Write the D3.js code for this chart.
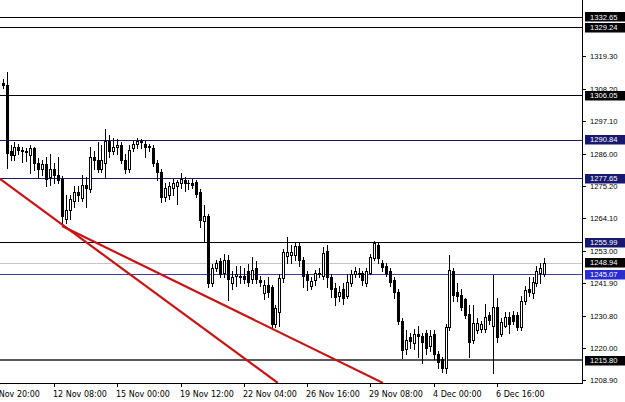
<!DOCTYPE html>
<html><head><meta charset="utf-8">
<script src="https://cdn.jsdelivr.net/npm/d3@7"></script>
<style>html,body{margin:0;padding:0;background:#fff;overflow:hidden}</style>
</head><body>
<svg id="c" width="625" height="402"></svg>
<script>
// H4 bars, index 0..137
const opens = [1310.3,1309.5,1287,1285.7,1288.5,1287.5,1287,1285.5,1288,1283,
1281,1282.5,1278,1281,1279,1277.5,1264,1267,1270,1273,
1271,1275.5,1274,1285,1284,1281,1283,1290.5,1287,1288.5,
1289,1284,1281,1288,1289.5,1290.5,1289.5,1288.5,1288,1283,
1280,1271.5,1272,1274.5,1275,1276,1277,1276,1276,1276.5,
1273,1263,1265,1242,1247,1249.5,1245.5,1250,1242,1244.5,
1244,1244.5,1246,1243.5,1247,1243,1238.5,1241.5,1240.8,1228,
1232,1243.7,1251.3,1251.5,1251.5,1254.5,1250,1245,1241,1243,
1245,1244.5,1253,1244,1240.5,1237.5,1240,1237.5,1242,1245,
1245.5,1245.5,1242,1245.5,1250.5,1255,1249,1248,1246,1243,
1239,1229,1219.5,1223.5,1221.5,1224.5,1224,1225,1220.5,1224.5,
1218,1216,1213,1227,1246,1239,1238,1236.5,1231.5,1222.5,
1226,1226.5,1226.5,1231,1227.5,1234,1224.5,1227.5,1230.5,1231,
1231,1227,1236,1240,1238.5,1242,1245.5,1245];
const highs = [1311.5,1314.0,1289,1290,1289.5,1288.5,1288,1289,1288.5,1284.5,
1284,1285,1286,1283,1285,1278.5,1272,1272,1275,1275,
1279,1278,1288.5,1287,1290,1289,1294.4,1292.5,1291.5,1291,
1290,1286,1289,1290.5,1291.5,1291,1290.5,1289.5,1289,1284,
1281,1276,1276.5,1277.5,1277,1279.5,1278,1277,1277.5,1277,
1274,1268.5,1265.5,1248.5,1250,1250.5,1252,1251.5,1246,1248,
1248,1247,1248.5,1251,1249.5,1244.5,1243,1244.2,1241.5,1234.5,
1245,1253.5,1257.8,1255,1256,1255.5,1251,1246,1244,1246.5,
1247,1254.4,1255,1245,1242,1241,1242,1245,1246.5,1247.5,
1247,1246,1247,1252,1256.5,1256,1250,1249,1247,1244,
1240,1230,1226,1225,1226.5,1227.5,1225,1226,1226,1226,
1219,1217,1228,1251.5,1247,1242,1240,1237,1234.5,1234.5,
1230,1229,1235,1232,1244.8,1237,1230,1232,1232,1232.5,
1232,1237.5,1241,1244,1244,1248,1249,1250.5];
const lows = [1308.6,1281.1,1284,1284,1286,1283.3,1283.5,1279.5,1280.5,1278,
1279,1275,1275.5,1276,1276,1262,1262.5,1264,1268,1270,
1270,1268,1273,1281,1280,1280,1277.7,1285,1286,1286,
1283,1279.5,1280,1287,1288,1288,1285,1287,1282,1277,
1269.8,1270,1270.5,1272,1269,1274.5,1273.5,1274,1274.5,1271.5,
1261,1256,1240.8,1241,1246,1244,1244,1236.3,1240,1241,
1242,1242,1241,1242,1242,1241,1236.5,1237.4,1226.5,1227,
1227.5,1242.5,1249,1249,1250,1248,1240.8,1239.7,1240,1241.5,
1244,1243.5,1240.8,1237.4,1234.5,1236,1235,1237,1241,1244,
1244,1241.5,1241,1245,1250,1249,1246,1244.5,1241,1237,
1228,1216.5,1218,1220,1219.5,1217,1214.7,1218,1219,1216,
1213,1211.8,1211.5,1226,1236,1236,1233,1230,1217,1221.5,
1225,1225.5,1225.5,1228,1211.3,1222,1224,1227,1225,1228,
1226,1226,1235,1237.5,1237,1241,1242,1244.5];
const closes = [1309.5,1286.2,1285.7,1288.5,1287.5,1287,1286.5,1288,1283,1281,
1282.5,1277.5,1281,1279,1277,1265,1267,1270.5,1273,1272,
1275.5,1274.5,1285,1284,1281,1284,1290.5,1287,1288.5,1289,
1284,1281,1287.5,1289.5,1290.5,1290,1288.5,1288.7,1283,1280,
1271.5,1274.5,1275,1276,1276.5,1277.5,1276,1276.2,1275.5,1272.5,
1263.5,1265,1242,1247,1249,1245,1250,1243.5,1244,1245,
1244.5,1243.5,1242.5,1246.5,1243.5,1242.5,1241.4,1239,1228,1233.5,
1243.7,1252.7,1252.7,1252.5,1254.5,1249.8,1244.5,1243,1242.8,1245.5,
1245.5,1252.3,1244,1240,1237.4,1239,1237,1242.5,1245,1246,
1245,1243,1246,1251,1255.5,1250.5,1247.5,1245.5,1242.5,1239,
1229,1219.2,1222.6,1222.2,1224.5,1224,1222,1220,1224,1218,
1215.2,1213,1227,1246.5,1238,1237.5,1234,1231,1222,1228.5,
1228.5,1228,1230.5,1229.5,1234,1223.5,1228.9,1230.5,1228,1229,
1227,1236,1239.5,1239,1242.5,1246,1247,1248.94];

const yTicks = [1319.30, 1308.20, 1297.10, 1286.00, 1275.20, 1264.10, 1253.00, 1241.90, 1230.80, 1220.00, 1208.90];
const timeLabels = ["11 Nov 20:00","12 Nov 08:00","15 Nov 00:00","19 Nov 12:00","22 Nov 04:00","26 Nov 16:00","29 Nov 08:00","4 Dec 00:00","6 Dec 16:00"];
const timeLabelBars = [-4, 13, 29, 45, 61, 77, 93, 109, 125];

const levelPrices = [1332.65, 1329.24, 1306.05, 1290.84, 1277.65, 1255.99, 1248.94, 1245.07, 1215.80];
const levelKinds  = ["black","black","black","navy","navy","navyBox","bid","blue","gray"];

const trendBars   = [[-0.66, 69.6], [15.02, 96.2]];
const trendPrices = [[1277.5, 1208.0], [1261.45, 1208.0]];

const kindStyle = {
  black:   {line:"#000000", w:1, box:"#000000"},
  navy:    {line:"#18186e", w:1, box:"#18186e"},
  navyBox: {line:"#000000", w:1, box:"#18186e"},
  bid:     {line:"#c4c4c4", w:1, box:"#000000"},
  blue:    {line:"#3c3caa", w:1, box:"#2b2bd0"},
  gray:    {line:"#5a5a5a", w:2, box:"#000000"}
};

const W = 625, H = 402, plotR = 582, plotB = 383;
const svg = d3.select("#c");
svg.append("rect").attr("width",W).attr("height",H).attr("fill","#fff");

const x = d3.scaleLinear().domain([0,137]).range([2.6,544.4]);
const y = d3.scaleLinear().domain([1208.32,1338.44]).range([382,0]);

svg.append("defs").append("clipPath").attr("id","pc")
  .append("rect").attr("x",0).attr("y",0).attr("width",plotR).attr("height",plotB);

const plot = svg.append("g").attr("clip-path","url(#pc)");

// horizontal levels
levelPrices.forEach((p,k)=>{
  const s = kindStyle[levelKinds[k]];
  const yy = Math.round(y(p)) + (s.w===1?0.5:0);
  plot.append("line").attr("x1",0).attr("x2",plotR).attr("y1",yy).attr("y2",yy)
    .attr("stroke",s.line).attr("stroke-width",s.w).attr("shape-rendering","crispEdges");
});

// candles
const bars = opens.map((o,i)=>({i,o,h:highs[i],l:lows[i],c:closes[i]}));
const cg = plot.append("g").attr("shape-rendering","crispEdges");
bars.forEach(b=>{
  const cx = Math.round(x(b.i));
  cg.append("line").attr("x1",cx+0.5).attr("x2",cx+0.5)
    .attr("y1",Math.round(y(b.h))).attr("y2",Math.round(y(b.l))+1)
    .attr("stroke","#000").attr("stroke-width",1);
  const top = Math.round(y(Math.max(b.o,b.c)));
  const bot = Math.round(y(Math.min(b.o,b.c)));
  const hgt = Math.max(0, bot-top);
  if (hgt < 1) {
    cg.append("line").attr("x1",cx-1).attr("x2",cx+2).attr("y1",top+0.5).attr("y2",top+0.5)
      .attr("stroke","#000").attr("stroke-width",1);
  } else {
    cg.append("rect").attr("x",cx-0.5).attr("y",top+0.5).attr("width",2).attr("height",hgt)
      .attr("fill", b.c>=b.o ? "#fff" : "#000").attr("stroke","#000").attr("stroke-width",1);
  }
});

// trend lines
trendBars.forEach((tb,k)=>{
  const tp = trendPrices[k];
  plot.append("line").attr("x1",x(tb[0])).attr("y1",y(tp[0])).attr("x2",x(tb[1])).attr("y2",y(tp[1]))
    .attr("stroke","#c81414").attr("stroke-width",2.2);
});

// axes lines
svg.append("line").attr("x1",plotR+0.5).attr("x2",plotR+0.5).attr("y1",0).attr("y2",plotB+1)
  .attr("stroke","#000").attr("shape-rendering","crispEdges");
svg.append("line").attr("x1",0).attr("x2",plotR+1).attr("y1",plotB+0.5).attr("y2",plotB+0.5)
  .attr("stroke","#000").attr("shape-rendering","crispEdges");

// y ticks
const yg = svg.append("g");
yTicks.forEach(t=>{
  const yy = Math.round(y(t))+0.5;
  yg.append("line").attr("x1",plotR+1).attr("x2",plotR+4).attr("y1",yy).attr("y2",yy)
    .attr("stroke","#000").attr("shape-rendering","crispEdges");
  yg.append("text").attr("x",590).attr("y",yy).attr("dy","0.35em")
    .attr("font-family","Liberation Sans, Arial, sans-serif").attr("font-size",7.6)
    .attr("fill","#000").text(t.toFixed(2));
});

// level boxes
levelPrices.forEach((p,k)=>{
  const s = kindStyle[levelKinds[k]];
  const yy = y(p);
  svg.append("rect").attr("x",585).attr("y",Math.round(yy-4.5)).attr("width",40).attr("height",9.5)
    .attr("fill",s.box);
  svg.append("text").attr("x",590).attr("y",yy).attr("dy","0.35em")
    .attr("font-family","Liberation Sans, Arial, sans-serif").attr("font-size",7.6)
    .attr("fill","#fff").text(p.toFixed(2));
});

// time labels
const tg = svg.append("g");
timeLabelBars.forEach((bi,k)=>{
  const xx = Math.round(x(bi))+0.5;
  tg.append("line").attr("x1",xx).attr("x2",xx).attr("y1",plotB+1).attr("y2",plotB+4)
    .attr("stroke","#000").attr("shape-rendering","crispEdges");
  tg.append("text").attr("x",xx-1.5).attr("y",397)
    .attr("font-family","DejaVu Sans, sans-serif").attr("font-size",8)
    .attr("fill","#000").text(timeLabels[k]);
});
</script>
</body></html>
